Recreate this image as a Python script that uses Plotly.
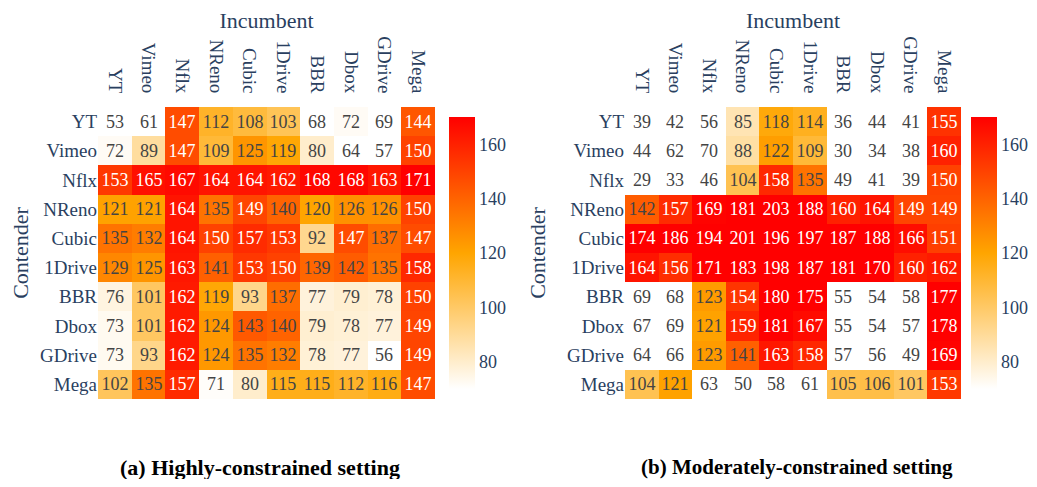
import plotly.graph_objects as go

incumbent = ["YT", "Vimeo", "Nflx", "NReno", "Cubic", "1Drive", "BBR", "Dbox", "GDrive", "Mega"]
contender = ["YT", "Vimeo", "Nflx", "NReno", "Cubic", "1Drive", "BBR", "Dbox", "GDrive", "Mega"]

high_constrained = [
    [53, 61, 147, 112, 108, 103, 68, 72, 69, 144],
    [72, 89, 147, 109, 125, 119, 80, 64, 57, 150],
    [153, 165, 167, 164, 164, 162, 168, 168, 163, 171],
    [121, 121, 164, 135, 149, 140, 120, 126, 126, 150],
    [135, 132, 164, 150, 157, 153, 92, 147, 137, 147],
    [129, 125, 163, 141, 153, 150, 139, 142, 135, 158],
    [76, 101, 162, 119, 93, 137, 77, 79, 78, 150],
    [73, 101, 162, 124, 143, 140, 79, 78, 77, 149],
    [73, 93, 162, 124, 135, 132, 78, 77, 56, 149],
    [102, 135, 157, 71, 80, 115, 115, 112, 116, 147],
]

moderate_constrained = [
    [39, 42, 56, 85, 118, 114, 36, 44, 41, 155],
    [44, 62, 70, 88, 122, 109, 30, 34, 38, 160],
    [29, 33, 46, 104, 158, 135, 49, 41, 39, 150],
    [142, 157, 169, 181, 203, 188, 160, 164, 149, 149],
    [174, 186, 194, 201, 196, 197, 187, 188, 166, 151],
    [164, 156, 171, 183, 198, 187, 181, 170, 160, 162],
    [69, 68, 123, 154, 180, 175, 55, 54, 58, 177],
    [67, 69, 121, 159, 181, 167, 55, 54, 57, 178],
    [64, 66, 123, 141, 163, 158, 57, 56, 49, 169],
    [104, 121, 63, 50, 58, 61, 105, 106, 101, 153],
]

captions = ["(a) Highly-constrained setting", "(b) Moderately-constrained setting"]

colorscale = [[0, "white"], [0.5, "orange"], [1, "red"]]
FONT = "Liberation Serif"
# figure size chosen so the page (with the browser's 8px body margin) needs no scrollbars
W, H = 1021, 471

def px(xp):
    return xp / W

def py(yp):
    return 1 - yp / H

fig = go.Figure()

cb_common = dict(xanchor="left", len=292 / H, thickness=26, y=py(245),
                 tickvals=[80, 100, 120, 140, 160], tickfont=dict(size=18))

fig.add_trace(go.Heatmap(
    z=high_constrained, x=incumbent, y=contender,
    colorscale=colorscale, zmin=70, zmax=170,
    texttemplate="%{z}", textfont=dict(size=18),
    xaxis="x", yaxis="y",
    colorbar=dict(x=px(431), **cb_common),
))
fig.add_trace(go.Heatmap(
    z=moderate_constrained, x=incumbent, y=contender,
    colorscale=colorscale, zmin=70, zmax=170,
    texttemplate="%{z}", textfont=dict(size=18),
    xaxis="x2", yaxis="y2",
    colorbar=dict(x=px(953), **cb_common),
))

xcommon = dict(side="top", tickangle=90,
               title=dict(text="Incumbent", font=dict(size=22), standoff=12),
               ticks="outside", ticklen=6, tickcolor="rgba(0,0,0,0)",
               tickfont=dict(size=19), showgrid=False, zeroline=False, automargin=False)
ycommon = dict(autorange="reversed", title=dict(text="Contender", font=dict(size=22)),
               tickfont=dict(size=19), showgrid=False, zeroline=False, automargin=False)

ydom = [py(391), py(99)]
fig.update_layout(
    width=W, height=H,
    margin=dict(l=0, r=0, t=0, b=0, autoexpand=False),
    font=dict(family=FONT, color="#2a3f5f"),
    plot_bgcolor="white", paper_bgcolor="white",
    xaxis=dict(domain=[px(90), px(427)], anchor="y", **xcommon),
    yaxis=dict(domain=ydom, anchor="x", **ycommon),
    xaxis2=dict(domain=[px(617), px(953)], anchor="y2", **xcommon),
    yaxis2=dict(domain=ydom, anchor="x2", **ycommon),
    annotations=[
        dict(text="<b>" + captions[0] + "</b>", x=px(252), y=py(459),
             xref="paper", yref="paper", xanchor="center", yanchor="middle",
             showarrow=False, font=dict(size=22, family=FONT, color="black")),
        dict(text="<b>" + captions[1] + "</b>", x=px(789), y=py(459),
             xref="paper", yref="paper", xanchor="center", yanchor="middle",
             showarrow=False, font=dict(size=21, family=FONT, color="black")),
    ],
)

fig.write_html("out.html")
